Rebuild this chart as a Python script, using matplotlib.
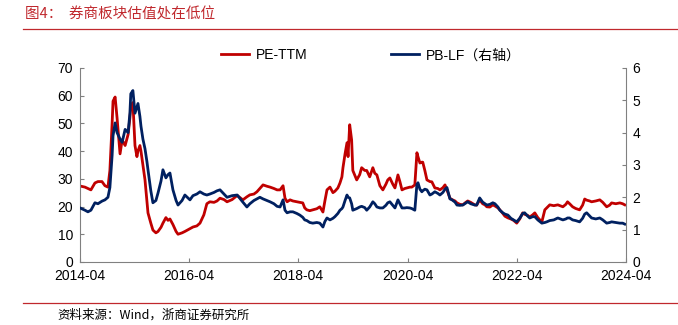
import pandas as pd
import matplotlib.pyplot as plt
from matplotlib.lines import Line2D

plt.rcParams['font.family'] = ['Liberation Sans', 'Noto Sans CJK SC', 'DejaVu Sans']

# values (approximate)
dates = [
    "2014-04-01", "2014-05-04", "2014-05-24", "2014-06-13", "2014-07-10", "2014-07-30", "2014-08-26",
    "2014-09-15", "2014-10-05", "2014-10-18", "2014-11-02", "2014-11-08", "2014-11-22", "2014-12-05",
    "2014-12-25", "2015-01-08", "2015-01-28", "2015-02-17", "2015-03-01", "2015-03-07", "2015-03-21",
    "2015-04-04", "2015-04-17", "2015-04-24", "2015-05-07", "2015-05-14", "2015-05-27", "2015-06-10",
    "2015-06-23", "2015-06-30", "2015-07-19", "2015-08-02", "2015-08-22", "2015-09-05", "2015-09-25",
    "2015-10-08", "2015-10-28", "2015-11-11", "2015-11-24", "2015-12-14", "2016-01-04", "2016-01-17",
    "2016-02-13", "2016-03-03", "2016-04-06", "2016-04-26", "2016-05-22", "2016-06-12", "2016-07-08",
    "2016-07-28", "2016-08-17", "2016-09-14", "2016-10-04", "2016-10-24", "2016-11-20", "2016-12-10",
    "2017-01-13", "2017-02-16", "2017-03-26", "2017-04-22", "2017-05-12", "2017-06-08", "2017-06-28",
    "2017-07-18", "2017-08-08", "2017-09-04", "2017-09-24", "2017-10-20", "2017-11-10", "2017-11-30",
    "2017-12-20", "2018-01-02", "2018-01-16", "2018-02-05", "2018-02-24", "2018-03-22", "2018-04-11",
    "2018-05-01", "2018-05-14", "2018-05-28", "2018-06-17", "2018-07-07", "2018-08-03", "2018-08-23",
    "2018-09-13", "2018-09-26", "2018-10-10", "2018-10-30", "2018-11-19", "2018-12-02", "2018-12-22",
    "2019-01-05", "2019-01-18", "2019-01-25", "2019-02-08", "2019-02-21", "2019-02-28", "2019-03-11",
    "2019-03-24", "2019-04-01", "2019-04-27", "2019-05-17", "2019-05-30", "2019-06-20", "2019-07-03",
    "2019-07-23", "2019-08-13", "2019-08-26", "2019-09-09", "2019-09-29", "2019-10-19", "2019-11-08",
    "2019-11-21", "2019-12-05", "2019-12-25", "2020-01-08", "2020-01-28", "2020-02-10", "2020-02-24",
    "2020-03-14", "2020-03-27", "2020-04-17", "2020-04-30", "2020-05-20", "2020-06-03", "2020-06-10",
    "2020-06-23", "2020-07-06", "2020-07-12", "2020-07-26", "2020-08-09", "2020-08-29", "2020-09-11",
    "2020-10-01", "2020-10-21", "2020-11-04", "2020-11-24", "2020-12-08", "2020-12-21", "2021-01-10",
    "2021-01-24", "2021-02-13", "2021-02-26", "2021-03-17", "2021-04-06", "2021-04-26", "2021-05-09",
    "2021-05-29", "2021-06-25", "2021-07-08", "2021-07-28", "2021-08-17", "2021-09-01", "2021-09-14",
    "2021-10-04", "2021-10-24", "2021-11-07", "2021-11-27", "2021-12-10", "2021-12-30", "2022-01-13",
    "2022-02-02", "2022-02-22", "2022-03-12", "2022-04-02", "2022-04-22", "2022-05-12", "2022-05-25",
    "2022-06-14", "2022-06-28", "2022-07-18", "2022-08-01", "2022-08-21", "2022-09-17", "2022-10-07",
    "2022-10-20", "2022-11-09", "2022-12-06", "2023-01-02", "2023-02-05", "2023-02-25", "2023-03-08",
    "2023-03-22", "2023-04-11", "2023-05-01", "2023-05-28", "2023-06-17", "2023-07-01", "2023-07-14",
    "2023-08-03", "2023-08-16", "2023-09-13", "2023-10-10", "2023-10-30", "2023-11-25", "2023-12-15",
    "2023-12-28", "2024-01-25", "2024-02-21", "2024-03-11", "2024-03-25",
]

pe_ttm = [
    27.4, 27.0, 26.5, 26.0, 28.5, 29.0, 29.0, 27.5, 27.0, 33.0, 50.0, 58.0, 59.5, 52.0,
    39.0, 44.0, 42.0, 46.0, 52.0, 56.0, 57.5, 42.0, 38.0, 40.0, 42.0, 40.0, 35.0, 29.6,
    22.0, 17.7, 14.0, 11.5, 10.5, 11.0, 12.5, 14.0, 16.0, 15.0, 15.5, 13.5, 11.0, 10.0,
    10.5, 11.0, 12.0, 12.6, 13.0, 14.0, 17.0, 21.0, 21.7, 21.5, 22.0, 23.0, 22.5, 21.7,
    22.5, 24.0, 22.4, 23.5, 24.2, 24.5, 25.3, 26.5, 27.8, 27.3, 27.0, 26.5, 26.0, 26.0,
    27.5, 23.0, 21.7, 22.4, 22.0, 21.7, 21.5, 21.3, 19.5, 18.8, 18.5, 18.8, 19.2, 19.9,
    18.0, 22.0, 26.0, 27.0, 25.0, 25.5, 26.7, 28.5, 30.7, 34.0, 39.0, 43.0, 38.0, 49.5,
    44.0, 33.0, 29.6, 31.5, 34.0, 33.0, 33.0, 30.7, 34.0, 32.0, 31.4, 27.5, 26.0, 28.0,
    29.6, 30.3, 28.0, 26.7, 31.4, 29.0, 26.0, 26.5, 26.7, 27.0, 27.0, 27.8, 39.4, 38.0,
    35.7, 36.0, 36.0, 33.0, 29.6, 29.0, 28.9, 26.7, 26.5, 26.0, 26.8, 27.8, 26.0, 23.0,
    22.5, 22.0, 21.3, 20.8, 20.6, 21.5, 22.0, 21.5, 20.6, 20.5, 22.4, 21.0, 20.6, 19.9,
    19.8, 20.6, 20.2, 19.5, 18.8, 17.5, 16.5, 15.9, 15.5, 15.0, 14.0, 15.5, 17.7, 17.2,
    16.8, 16.2, 17.0, 17.7, 16.0, 14.4, 18.8, 19.5, 20.6, 20.3, 20.6, 19.9, 20.8, 21.7,
    21.0, 19.9, 19.3, 18.8, 20.5, 22.7, 22.3, 22.0, 21.7, 22.0, 22.4, 21.5, 19.9, 20.5,
    21.3, 21.0, 21.3, 21.0, 20.6,
]

pb_lf = [
    1.67, 1.60, 1.55, 1.60, 1.83, 1.80, 1.88, 1.92, 2.00, 2.30, 3.30, 3.90, 4.30, 4.00,
    3.80, 3.70, 4.10, 4.00, 4.60, 5.20, 5.30, 4.60, 4.80, 4.90, 4.50, 4.20, 3.80, 3.50,
    3.10, 2.85, 2.20, 1.83, 1.90, 2.13, 2.50, 2.85, 2.60, 2.70, 2.75, 2.23, 1.90, 1.76,
    1.90, 2.07, 1.92, 2.05, 2.10, 2.17, 2.10, 2.07, 2.10, 2.15, 2.20, 2.23, 2.10, 2.00,
    2.05, 2.07, 1.85, 1.70, 1.80, 1.90, 1.95, 2.00, 1.95, 1.90, 1.86, 1.80, 1.72, 1.70,
    1.92, 1.60, 1.52, 1.55, 1.55, 1.50, 1.45, 1.38, 1.30, 1.28, 1.22, 1.20, 1.22, 1.20,
    1.08, 1.25, 1.36, 1.30, 1.35, 1.40, 1.50, 1.60, 1.65, 1.70, 1.90, 2.07, 2.00, 1.98,
    1.80, 1.60, 1.65, 1.70, 1.72, 1.68, 1.60, 1.70, 1.86, 1.80, 1.70, 1.67, 1.67, 1.75,
    1.83, 1.86, 1.75, 1.67, 1.92, 1.80, 1.67, 1.67, 1.68, 1.67, 1.65, 1.60, 2.40, 2.45,
    2.25, 2.17, 2.20, 2.25, 2.23, 2.07, 2.10, 2.17, 2.12, 2.07, 2.15, 2.25, 2.30, 1.95,
    1.92, 1.85, 1.76, 1.75, 1.76, 1.82, 1.86, 1.80, 1.76, 1.76, 1.98, 1.85, 1.80, 1.76,
    1.78, 1.83, 1.80, 1.70, 1.60, 1.52, 1.48, 1.45, 1.35, 1.30, 1.24, 1.35, 1.50, 1.52,
    1.42, 1.36, 1.40, 1.40, 1.30, 1.20, 1.22, 1.24, 1.28, 1.30, 1.36, 1.30, 1.33, 1.36,
    1.36, 1.30, 1.28, 1.24, 1.35, 1.48, 1.52, 1.42, 1.36, 1.33, 1.36, 1.30, 1.20, 1.22,
    1.24, 1.22, 1.20, 1.20, 1.17,
]

tick_labels = ["2014-04", "2016-04", "2018-04", "2020-04", "2022-04", "2024-04"]

red = "#c00000"
navy = "#002060"
grey = "#808080"

x = pd.to_datetime(dates)
ticks = pd.to_datetime([t + "-01" for t in tick_labels])

fig = plt.figure(figsize=(6.78, 3.25), dpi=100)
ax = fig.add_axes([0.118, 0.194, 0.805, 0.597])
ax2 = ax.twinx()

ax.plot(x, pe_ttm, color=red, lw=2.0)
ax2.plot(x, pb_lf, color=navy, lw=2.0)

ax.set_xlim(ticks[0], ticks[-1])
ax.set_ylim(0, 70)
ax.set_yticks(range(0, 71, 10))
ax2.set_ylim(0, 6)
ax2.set_yticks(range(0, 7))
ax.set_xticks(ticks)
ax.set_xticklabels(tick_labels)

for a in (ax, ax2):
    a.spines['top'].set_visible(False)
    for s in ('left', 'right', 'bottom'):
        a.spines[s].set_color(grey)
    a.tick_params(direction='in', length=3, color=grey, labelsize=10, pad=5)
ax.spines['right'].set_visible(False)
ax2.spines['left'].set_visible(False)
ax2.spines['bottom'].set_visible(False)

handles = [Line2D([], [], color=red, lw=2), Line2D([], [], color=navy, lw=2)]
fig.legend(handles, ["PE-TTM", "PB-LF（右轴）"], loc='center', bbox_to_anchor=(0.547, 0.83),
           ncol=2, frameon=False, fontsize=10, handlelength=2.0, columnspacing=6.0,
           handletextpad=0.5)

# title and source
fig.text(0.037, 0.955, "图4：  券商板块估值处在低位", color="#c0282d", fontsize=10.5,
         family=['Noto Sans CJK SC'], va='center')
fig.add_artist(Line2D([0.034, 1.0], [0.91, 0.91], color="#c0282d", lw=0.9))
fig.add_artist(Line2D([0.034, 1.0], [0.068, 0.068], color="#c0282d", lw=0.9))
fig.text(0.084, 0.03, "资料来源：Wind，浙商证券研究所", fontsize=9,
         family=['Noto Sans CJK SC'], va='center')

fig.savefig("out.png", dpi=100)
